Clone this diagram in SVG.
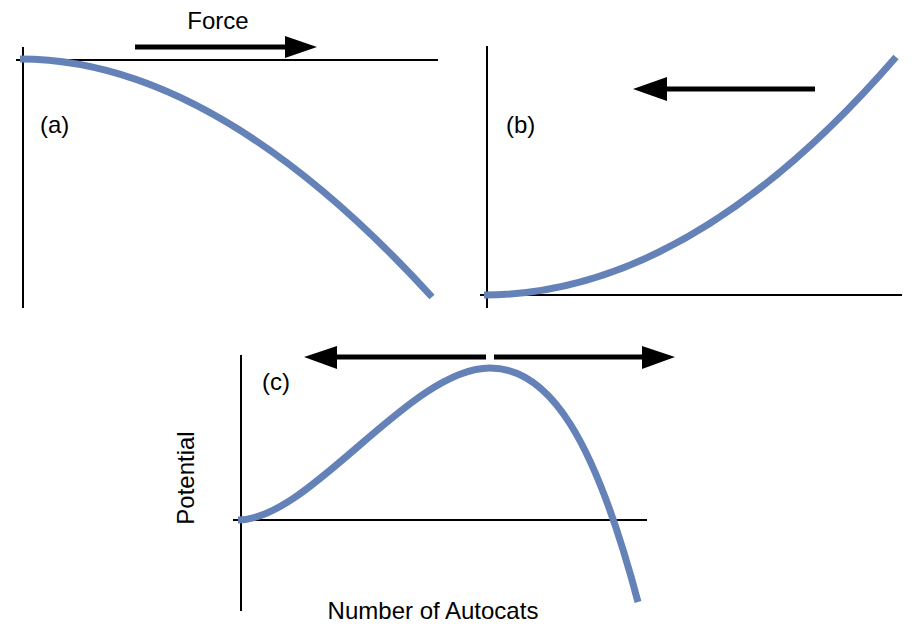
<svg xmlns="http://www.w3.org/2000/svg" width="918" height="626" viewBox="0 0 918 626">
<style>
.axis{stroke:#000;stroke-width:2;fill:none}
.curve{stroke:#6482b7;stroke-width:7;fill:none}
.arrow{stroke:#000;stroke-width:5;fill:none}
.head{fill:#000}
text{font-family:"Liberation Sans",Arial,sans-serif;font-size:24px;fill:#000}
</style>
<rect width="918" height="626" fill="#fff"/>
<g id="panel-a">
<line class="axis" x1="23" y1="47" x2="23" y2="308"/>
<line class="axis" x1="16" y1="60" x2="438" y2="60"/>
<path class="curve" d="M20,59 Q215,59 432,297"/>
<line class="arrow" x1="135" y1="47" x2="288" y2="47"/>
<polygon class="head" points="285,36 317,47 285,58"/>
<text x="218" y="29" text-anchor="middle">Force</text>
<text x="40" y="133">(a)</text>
</g>
<g id="panel-b">
<line class="axis" x1="487" y1="46" x2="487" y2="308"/>
<line class="axis" x1="480" y1="295" x2="902" y2="295"/>
<path class="curve" d="M484,295 Q690,295 896,57"/>
<line class="arrow" x1="815" y1="89" x2="664" y2="89"/>
<polygon class="head" points="667,77 633,89 667,101"/>
<text x="506" y="133">(b)</text>
</g>
<g id="panel-c">
<line class="axis" x1="241" y1="355" x2="241" y2="611"/>
<line class="axis" x1="233" y1="520" x2="647" y2="520"/>
<path class="curve" d="M238,520 C310,520 410,368 490,368 C550,368 595,440 638,602"/>
<line class="arrow" x1="486" y1="357" x2="334" y2="357"/>
<polygon class="head" points="337,346 304,357 337,369"/>
<line class="arrow" x1="494" y1="357" x2="645" y2="357"/>
<polygon class="head" points="642,346 675,357 642,369"/>
<text x="262" y="390">(c)</text>
<text transform="translate(194,478) rotate(-90)" text-anchor="middle">Potential</text>
<text x="433" y="619" text-anchor="middle">Number of Autocats</text>
</g>
</svg>
